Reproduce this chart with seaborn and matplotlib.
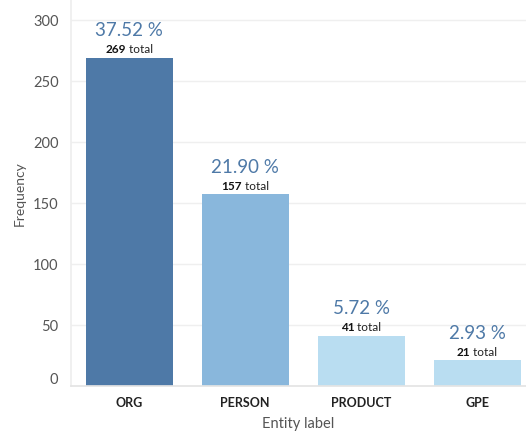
import matplotlib
matplotlib.use("Agg")
import matplotlib.pyplot as plt
import matplotlib.transforms as mtransforms
import seaborn as sns
import pandas as pd

# Entity counts and their share of all entities
labels = ["ORG", "PERSON", "PRODUCT", "GPE"]
counts = [269, 157, 41, 21]
shares = [37.52, 21.90, 5.72, 2.93]
bar_colors = ["#4e79a7", "#89b7dc", "#b9ddf1", "#b9ddf1"]
yticks = [0, 50, 100, 150, 200, 250, 300]

df = pd.DataFrame({"label": labels, "count": counts})

sns.set_theme(style="white")
plt.rcParams["font.family"] = ["Lato", "DejaVu Sans"]

fig = plt.figure(figsize=(5.26, 4.35), dpi=100)
ax = fig.add_axes([71 / 526, 48 / 435, 1 - 71 / 526, 387 / 435])

sns.barplot(data=df, x="label", y="count", hue="label", palette=bar_colors,
            width=0.75, saturation=1, legend=False, linewidth=0, ax=ax)

ax.set_xlim(-0.5, 3.42)
ax.set_ylim(0, 317)
ax.set_yticks(yticks)
ax.set_yticklabels([str(v) for v in yticks])
ax.yaxis.grid(True, color="#efefef", linewidth=1)
ax.set_axisbelow(True)

for side in ["top", "right"]:
    ax.spines[side].set_visible(False)
ax.spines["left"].set_color("#eeeeee")
ax.spines["bottom"].set_color("#e4e4e4")

ax.tick_params(axis="y", length=0, pad=9, labelsize=10.5, labelcolor="#555555")
ax.tick_params(axis="x", length=0, pad=7, labelsize=9, labelcolor="#222222")
for t in ax.get_xticklabels():
    t.set_fontweight("bold")

# category separators along the baseline
ax.set_xticks([0.5, 1.5, 2.5], minor=True)
ax.tick_params(axis="x", which="minor", length=3, color="#e4e4e4", width=0.8)

# lift the zero label off the baseline
zero = ax.get_yticklabels()[0]
zero.set_transform(zero.get_transform() +
                   mtransforms.ScaledTranslation(0, 8 / 100, fig.dpi_scale_trans))

ax.set_xlabel("Entity label", fontsize=10.5, color="#555555", labelpad=6)
ax.set_ylabel("Frequency", fontsize=10, color="#555555", labelpad=5)

# value labels above each bar
fig.canvas.draw()
renderer = fig.canvas.get_renderer()
for i, (c, s) in enumerate(zip(counts, shares)):
    ax.annotate(f"{s:.2f} %", xy=(i, c), xytext=(0, 28), textcoords="offset pixels",
                ha="center", va="center", fontsize=13.5, color="#4e79a7")
    num = ax.annotate(f"{c}", xy=(i, c), xytext=(0, 9), textcoords="offset pixels",
                      ha="left", va="center", fontsize=8.5, fontweight="bold",
                      color="#111111")
    tot = ax.annotate(" total", xy=(i, c), xytext=(0, 9), textcoords="offset pixels",
                      ha="left", va="center", fontsize=8.5, color="#222222")
    w_num = num.get_window_extent(renderer).width
    w_tot = tot.get_window_extent(renderer).width
    start = -(w_num + w_tot) / 2
    num.set_position((start, 9))
    tot.set_position((start + w_num, 9))

fig.savefig("out.png", dpi=100)
